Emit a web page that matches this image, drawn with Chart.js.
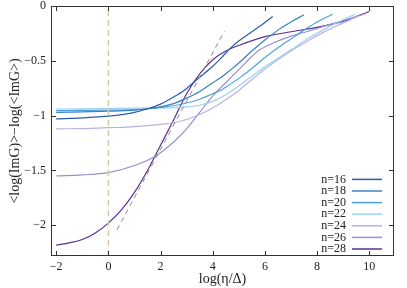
<!DOCTYPE html>
<html>
<head>
<meta charset="utf-8">
<script src="https://cdn.jsdelivr.net/npm/chart.js@4/dist/chart.umd.min.js"></script>
<style>
  html, body { margin: 0; padding: 0; background: #fff; }
  #wrap { width: 407px; height: 288px; }
</style>
</head>
<body>
<div id="wrap"><canvas id="chart" width="407" height="288"></canvas></div>
<script>
// Curves, one x/y pair of arrays per n
const n16X = [-2, -1, 0, 0.5, 1, 1.6, 2, 2.5, 2.9, 3.5, 4, 4.3, 4.7, 5, 5.5, 6, 6.3];
const n16Y = [-1.03, -1.02, -1.005, -0.99, -0.97, -0.93, -0.895, -0.83, -0.77, -0.65, -0.55, -0.48, -0.38, -0.32, -0.235, -0.15, -0.095];

const n18X = [-2, -1, 0, 1, 1.6, 2, 2.5, 3, 3.5, 4, 4.3, 4.7, 5, 5.5, 6, 6.5, 7, 7.5];
const n18Y = [-0.97, -0.965, -0.96, -0.95, -0.935, -0.92, -0.89, -0.84, -0.78, -0.70, -0.655, -0.58, -0.52, -0.41, -0.31, -0.22, -0.145, -0.08];

const n20X = [-2, -1, 0, 1, 1.6, 2, 2.5, 3, 3.5, 4, 4.3, 4.5, 5, 5.5, 6, 6.5, 7, 7.5, 8, 8.6];
const n20Y = [-0.955, -0.952, -0.95, -0.945, -0.935, -0.925, -0.91, -0.885, -0.85, -0.80, -0.77, -0.74, -0.66, -0.57, -0.47, -0.38, -0.30, -0.22, -0.145, -0.075];

const n22X = [-2, -1, 0, 1, 2, 2.5, 3, 3.5, 4, 4.5, 5, 5.5, 6, 6.6, 7, 7.7, 8.5, 9, 9.45];
const n22Y = [-0.94, -0.938, -0.935, -0.932, -0.93, -0.928, -0.92, -0.905, -0.87, -0.81, -0.73, -0.64, -0.555, -0.46, -0.40, -0.29, -0.185, -0.125, -0.075];

const n24X = [-2, -1, 0, 1, 2, 2.5, 3, 3.5, 4, 4.5, 5, 5.5, 6, 6.5, 7, 7.7, 8.2, 8.9, 9.6];
const n24Y = [-1.12, -1.118, -1.11, -1.10, -1.08, -1.065, -1.035, -0.99, -0.93, -0.855, -0.77, -0.67, -0.575, -0.49, -0.41, -0.31, -0.245, -0.165, -0.09];

const n26X = [-2, -1, 0, 1, 1.8, 2.5, 3, 3.5, 4, 4.5, 5, 5.5, 5.8, 6.3, 7, 7.6, 8.4, 8.9, 9.85];
const n26Y = [-1.55, -1.54, -1.52, -1.455, -1.37, -1.24, -1.12, -0.97, -0.82, -0.70, -0.58, -0.46, -0.40, -0.34, -0.275, -0.235, -0.175, -0.14, -0.07];

const n28X = [-2, -1.5, -1, -0.5, 0, 0.5, 1, 1.5, 2, 2.5, 3, 3.5, 4, 4.5, 5, 6, 7, 8, 9, 10];
const n28Y = [-2.18, -2.16, -2.13, -2.07, -1.98, -1.86, -1.70, -1.50, -1.27, -1.04, -0.80, -0.62, -0.49, -0.41, -0.36, -0.28, -0.235, -0.195, -0.14, -0.05];

// straight gray asymptote and the vertical reference at log(eta/Delta)=0
const asymX = [0.33, 4.45];
const asymY = [-2.04, -0.23];
const refX = 0;

const xTicks = [-2, 0, 2, 4, 6, 8, 10];
const yTicks = [0, -0.5, -1, -1.5, -2];
const xMin = -2.2, xMax = 10.95;
const yMin = -2.28, yMax = 0;

const labels = ['n=16', 'n=18', 'n=20', 'n=22', 'n=24', 'n=26', 'n=28'];
const colors = ['#2e5da6', '#3a82c4', '#4fa3dc', '#9dd0ee', '#b8b2e2', '#9890d0', '#5b2f98'];
const seriesX = [n16X, n18X, n20X, n22X, n24X, n26X, n28X];
const seriesY = [n16Y, n18Y, n20Y, n22Y, n24Y, n26Y, n28Y];

const SERIF = "'Liberation Serif', 'Times New Roman', serif";
const pts = (xs, ys) => xs.map((x, i) => ({ x, y: ys[i] }));
const minus = v => v === 0 ? '0' : String(v).replace('-', '\u2212');

const datasets = [
    {
        label: 'ref',
        data: [{ x: refX, y: yMin }, { x: refX, y: yMax }],
        borderColor: '#dccaa6',
        borderWidth: 1.5,
        borderDash: [6, 4],
        pointRadius: 0,
    },
    {
        label: 'asym',
        data: pts(asymX, asymY),
        borderColor: '#8a8a8a',
        borderWidth: 1,
        borderDash: [5, 4],
        pointRadius: 0,
    },
];
labels.forEach((lab, i) => datasets.push({
    label: lab,
    data: pts(seriesX[i], seriesY[i]),
    borderColor: colors[i],
    borderWidth: 1.2,
    pointRadius: 0,
    cubicInterpolationMode: 'monotone',
    isCurve: true,
}));

// frame with inward ticks on all four sides
const framePlugin = {
    id: 'frame',
    afterDraw(chart) {
        const { ctx, chartArea: a, scales: { x, y } } = chart;
        const len = 5;
        ctx.save();
        ctx.strokeStyle = '#333';
        ctx.lineWidth = 1;
        ctx.strokeRect(a.left + 0.5, a.top + 0.5, a.right - a.left - 1, a.bottom - a.top - 1);
        ctx.beginPath();
        xTicks.forEach(v => {
            const px = Math.round(x.getPixelForValue(v)) + 0.5;
            ctx.moveTo(px, a.bottom); ctx.lineTo(px, a.bottom - len);
            ctx.moveTo(px, a.top); ctx.lineTo(px, a.top + len);
        });
        yTicks.forEach(v => {
            const py = Math.round(y.getPixelForValue(v)) + 0.5;
            ctx.moveTo(a.left, py); ctx.lineTo(a.left + len, py);
            ctx.moveTo(a.right, py); ctx.lineTo(a.right - len, py);
        });
        ctx.stroke();
        ctx.restore();
    }
};

// legend in the lower right: label right-aligned, sample line after it
const legendPlugin = {
    id: 'rlegend',
    afterDraw(chart) {
        const { ctx, chartArea: a } = chart;
        const curves = chart.data.datasets.filter(d => d.isCurve);
        const rowH = 11.6;
        ctx.save();
        ctx.font = '12px ' + SERIF;
        ctx.textAlign = 'right';
        ctx.textBaseline = 'middle';
        curves.forEach((d, i) => {
            const yy = a.bottom - 7 - (curves.length - 1 - i) * rowH;
            ctx.fillStyle = '#222';
            ctx.fillText(d.label, a.right - 48, yy);
            ctx.strokeStyle = d.borderColor;
            ctx.lineWidth = 1.5;
            ctx.beginPath();
            ctx.moveTo(a.right - 42, yy);
            ctx.lineTo(a.right - 12, yy);
            ctx.stroke();
        });
        ctx.restore();
    }
};

new Chart(document.getElementById('chart'), {
    type: 'line',
    data: { datasets },
    plugins: [framePlugin, legendPlugin],
    options: {
        responsive: false,
        animation: false,
        devicePixelRatio: 1,
        layout: { padding: { top: 6, right: 13, left: 0, bottom: 0 } },
        plugins: {
            legend: { display: false },
            tooltip: { enabled: false },
        },
        scales: {
            x: {
                type: 'linear',
                min: xMin,
                max: xMax,
                afterBuildTicks: s => { s.ticks = xTicks.map(v => ({ value: v })); },
                afterFit: s => { s.height = 32; s.paddingLeft = 0; s.paddingRight = 0; },
                grid: { display: false, drawTicks: false },
                border: { display: false },
                ticks: { color: '#222', padding: 4, font: { family: SERIF, size: 12 }, callback: minus, maxRotation: 0 },
                title: { display: true, text: 'log(\u03b7/\u0394)', color: '#222', padding: { top: 0, bottom: 0 }, font: { family: SERIF, size: 14 } },
            },
            y: {
                type: 'linear',
                min: yMin,
                max: yMax,
                afterBuildTicks: s => { s.ticks = yTicks.map(v => ({ value: v })); },
                afterFit: s => { s.width = 51; s.paddingTop = 0; s.paddingBottom = 0; },
                grid: { display: false, drawTicks: false },
                border: { display: false },
                ticks: { color: '#222', padding: 5, font: { family: SERIF, size: 12 }, callback: minus },
                title: { display: true, text: '<log(ImG)>\u2212log(<ImG>)', color: '#222', padding: { top: 6.5, bottom: 0 }, font: { family: SERIF, size: 14 } },
            },
        },
    },
});
</script>
</body>
</html>
